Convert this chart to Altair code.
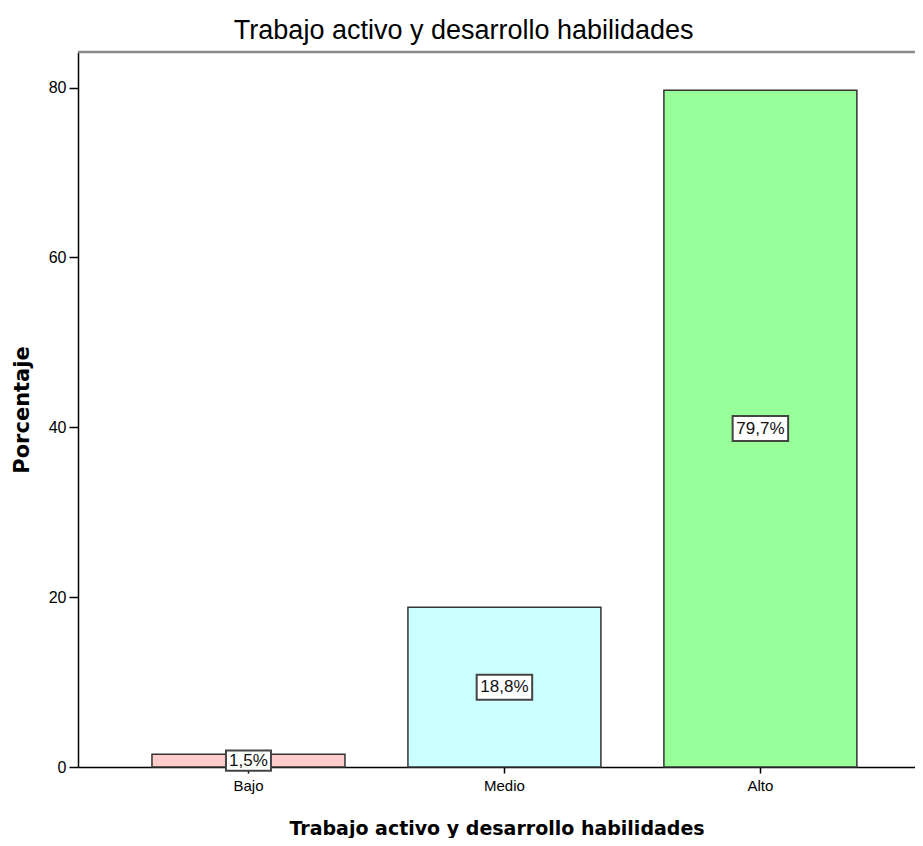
import altair as alt
import pandas as pd

categories = ["Bajo", "Medio", "Alto"]
percentages = [1.5, 18.8, 79.7]
labels = ["1,5%", "18,8%", "79,7%"]
colors = ["#FFCCCC", "#CCFFFF", "#99FF99"]
y_ticks = [0, 20, 40, 60, 80]
chart_title = "Trabajo activo y desarrollo habilidades"
x_title = "Trabajo activo y desarrollo habilidades"
y_title = "Porcentaje"

df = pd.DataFrame({"cat": categories, "pct": percentages, "label": labels})

W, H = 837, 715
x_scale = alt.Scale(domain=categories, paddingInner=0.246, paddingOuter=0.258, align=0.56)
y_scale = alt.Scale(domain=[0, 84.2], nice=False, zero=True)

base = alt.Chart(df)

x_enc = alt.X(
    "cat:N", scale=x_scale, sort=categories, title=x_title,
    axis=alt.Axis(labelAngle=0, tickSize=6, labelPadding=5, labelFontSize=15,
                  titleFontSize=19, titlePadding=26, titleFont="DejaVu Sans",
                  titleFontWeight="bold"),
)

bars = base.mark_bar(stroke="#333333", strokeWidth=1.5).encode(
    x=x_enc,
    y=alt.Y("pct:Q", scale=y_scale, title=y_title,
            axis=alt.Axis(values=y_ticks, tickSize=9, labelPadding=3, labelFontSize=16,
                          titleFontSize=21, titlePadding=16, titleFont="DejaVu Sans",
                          titleFontWeight="bold")),
    color=alt.Color("cat:N", scale=alt.Scale(domain=categories, range=colors), legend=None),
)

box_path = "M-1,-0.45H1V0.45H-1Z"
boxes = base.transform_calculate(
    mid="datum.pct / 2",
    bw="pow(10.5 * length(datum.label) + 3, 2)",
).mark_point(shape=box_path, filled=True, fill="white", stroke="#444444",
             strokeWidth=2, opacity=1).encode(
    x=alt.X("cat:N", scale=x_scale, sort=categories),
    y=alt.Y("mid:Q", scale=y_scale),
    size=alt.Size("bw:Q", scale=None, legend=None),
)

texts = base.transform_calculate(mid="datum.pct / 2").mark_text(
    font="Liberation Sans", fontSize=17, color="#111111", baseline="middle", align="center"
).encode(
    x=alt.X("cat:N", scale=x_scale, sort=categories),
    y=alt.Y("mid:Q", scale=y_scale),
    text="label:N",
)

top_line = alt.Chart(pd.DataFrame({"k": [0]})).mark_rule(color="#8a8a8a", strokeWidth=2.5).encode(
    x=alt.value(0), x2=alt.value(W), y=alt.value(0)
)

chart = alt.layer(bars, top_line, boxes, texts).properties(
    width=W, height=H,
    autosize=alt.AutoSizeParams(type="none"),
    padding={"left": 70, "top": 44, "right": 0, "bottom": 71},
    title=alt.TitleParams(text=chart_title, font="Liberation Sans", fontSize=27,
                          fontWeight="normal", anchor="middle", frame="bounds",
                          offset=6, color="black"),
).configure_view(stroke=None).configure_axis(
    grid=False, domainColor="black", domainWidth=1.5, tickColor="black", tickWidth=1.5,
    labelFont="Liberation Sans", labelColor="black", titleColor="black",
)

chart.save("out.html", embed_options={"renderer": "svg", "actions": False})
